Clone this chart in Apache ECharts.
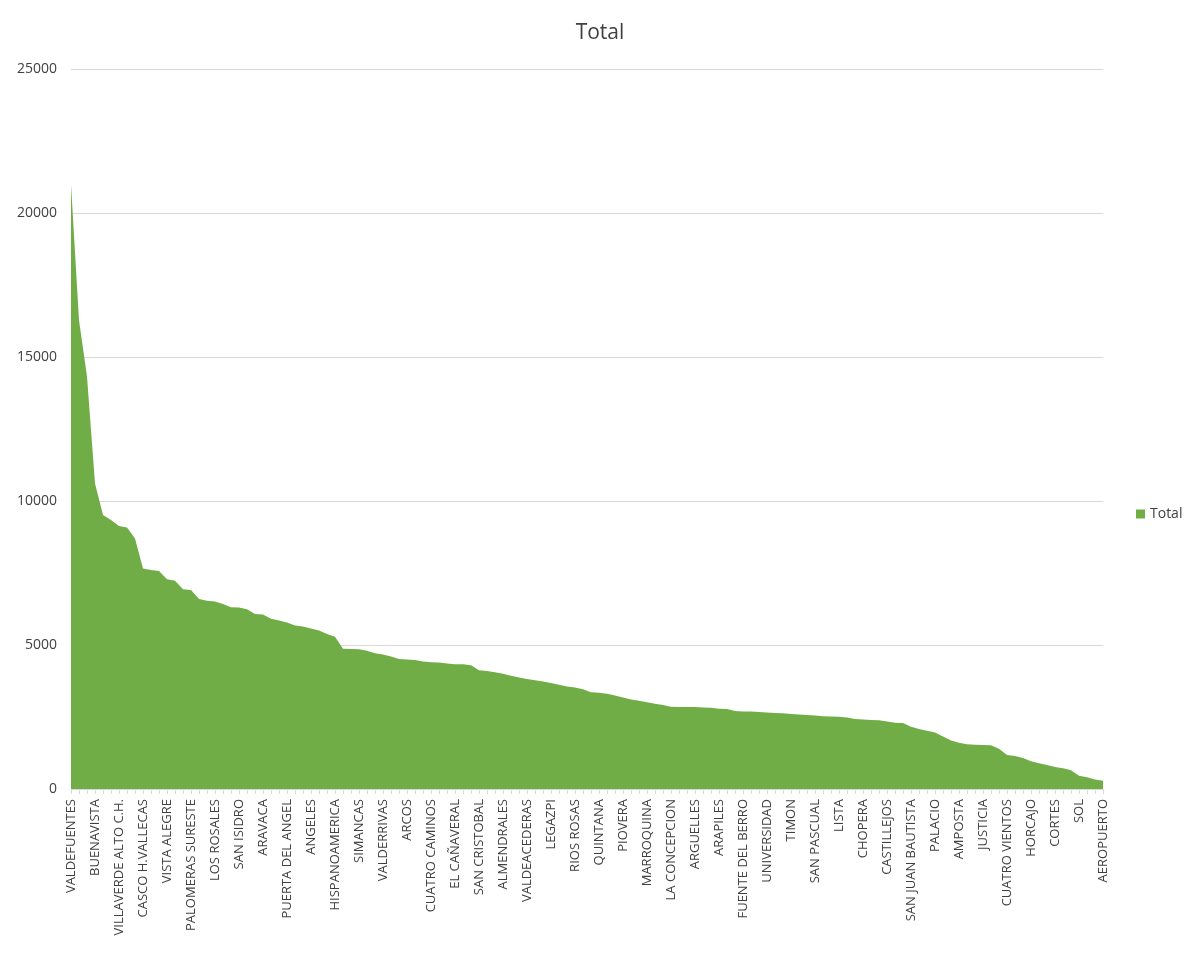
<!DOCTYPE html>
<html>
<head>
<meta charset="utf-8">
<script src="https://cdn.jsdelivr.net/npm/echarts@6/dist/echarts.min.js"></script>
<style>html,body{margin:0;padding:0;background:#fff}#chart{width:1200px;height:974px}</style>
</head>
<body>
<div id="chart"></div>
<script>
// labelled barrios (every 3rd category is labelled in the source chart)
var labelNames = ['VALDEFUENTES', 'BUENAVISTA', 'VILLAVERDE ALTO C.H.', 'CASCO H.VALLECAS', 'VISTA ALEGRE',
  'PALOMERAS SURESTE', 'LOS ROSALES', 'SAN ISIDRO', 'ARAVACA', 'PUERTA DEL ANGEL', 'ANGELES', 'HISPANOAMERICA',
  'SIMANCAS', 'VALDERRIVAS', 'ARCOS', 'CUATRO CAMINOS', 'EL CAÑAVERAL', 'SAN CRISTOBAL', 'ALMENDRALES',
  'VALDEACEDERAS', 'LEGAZPI', 'RIOS ROSAS', 'QUINTANA', 'PIOVERA', 'MARROQUINA', 'LA CONCEPCION', 'ARGUELLES',
  'ARAPILES', 'FUENTE DEL BERRO', 'UNIVERSIDAD', 'TIMON', 'SAN PASCUAL', 'LISTA', 'CHOPERA', 'CASTILLEJOS',
  'SAN JUAN BAUTISTA', 'PALACIO', 'AMPOSTA', 'JUSTICIA', 'CUATRO VIENTOS', 'HORCAJO', 'CORTES', 'SOL', 'AEROPUERTO']

var totals = [21000, 16280, 14320, 10610, 9510, 9340, 9130, 9080, 8700, 7660,
  7600, 7570, 7280, 7230, 6940, 6910, 6600, 6540, 6510, 6420,
  6310, 6300, 6240, 6080, 6060, 5910, 5850, 5780, 5680, 5640,
  5570, 5500, 5380, 5290, 4870, 4860, 4850, 4800, 4710, 4670,
  4600, 4510, 4500, 4480, 4430, 4400, 4390, 4360, 4330, 4330,
  4300, 4120, 4100, 4050, 4000, 3930, 3870, 3820, 3780, 3730,
  3680, 3620, 3560, 3520, 3460, 3360, 3340, 3310, 3250, 3180,
  3110, 3060, 3010, 2960, 2920, 2860, 2850, 2850, 2850, 2830,
  2820, 2790, 2780, 2710, 2690, 2690, 2670, 2660, 2640, 2630,
  2600, 2590, 2570, 2550, 2530, 2520, 2510, 2480, 2430, 2410,
  2400, 2390, 2340, 2300, 2290, 2160, 2080, 2020, 1960, 1820,
  1680, 1610, 1550, 1540, 1530, 1520, 1400, 1180, 1150, 1080,
  960, 890, 830, 760, 720, 650, 460, 410, 330, 290]

var categories = totals.map(function (v, i) {
  return i % 3 === 0 ? labelNames[i / 3] : ''
})

var myChart = echarts.init(document.getElementById('chart'))
myChart.setOption({
  backgroundColor: '#fff',
  title: {
    text: 'Total', left: 'center', top: 18,
    textStyle: { fontFamily: 'Open Sans', fontSize: 21, fontWeight: 'normal', color: '#404040' }
  },
  legend: {
    orient: 'vertical', left: 1131, top: 502,
    icon: 'rect', itemWidth: 9, itemHeight: 9,
    textStyle: { fontFamily: 'Open Sans', fontSize: 14, color: '#404040' },
    data: ['Total']
  },
  grid: { left: 71, right: 97, top: 69, bottom: 185, containLabel: false },
  xAxis: {
    type: 'category', data: categories, boundaryGap: false,
    axisLine: { lineStyle: { color: '#d9d9d9' } },
    axisTick: { show: true, interval: 0, length: 5, lineStyle: { color: '#d9d9d9' } },
    axisLabel: { interval: 2, rotate: 90, fontFamily: 'Open Sans', fontSize: 13, color: '#404040', margin: 10 }
  },
  yAxis: {
    type: 'value', min: 0, max: 25000, interval: 5000,
    axisLine: { show: false }, axisTick: { show: false },
    splitLine: { lineStyle: { color: '#d9d9d9' } },
    axisLabel: { fontFamily: 'Open Sans', fontSize: 14, color: '#404040', margin: 14,
      formatter: function (v) { return String(v) } }
  },
  series: [{
    name: 'Total', type: 'line', data: totals,
    symbol: 'none', lineStyle: { width: 0 },
    itemStyle: { color: '#70ad47' },
    areaStyle: { color: '#70ad47', opacity: 1 }
  }]
})
</script>
</body>
</html>
